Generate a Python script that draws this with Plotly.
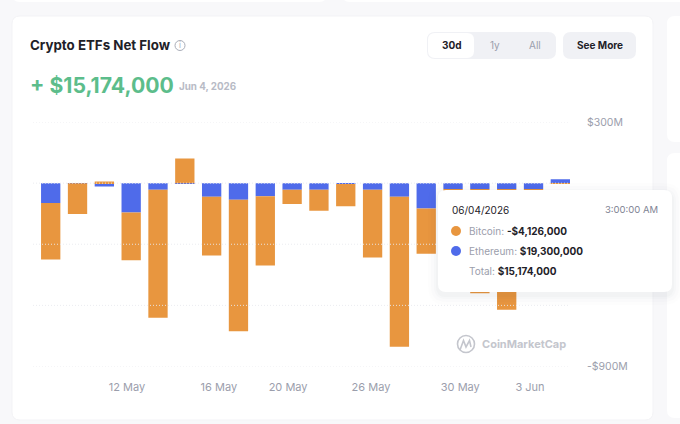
# -*- coding: utf-8 -*-
import plotly.graph_objects as go

W, H = 680, 424

# values in $M, one per trading day
days = ["7 May", "8 May", "11 May", "12 May", "13 May", "14 May", "15 May", "18 May", "19 May", "20 May",
        "21 May", "22 May", "26 May", "27 May", "28 May", "29 May", "1 Jun", "2 Jun", "3 Jun", "4 Jun"]
ethereum = [-98, -1, -16, -144, -33, -1, -67, -82, -64, -33, -33, -4, -33, -67, -124, -29, -29, -29, -29, 19.3]
bitcoin = [-277, -150, 8, -234, -628, 121, -288, -645, -340, -69, -102, -110, -332, -736, -223, -60, -512, -592, -40, -4.126]

tick_pos = [2.84, 6.27, 8.85, 11.94, 15.27, 17.87]
tick_labels = ["12 May", "16 May", "20 May", "26 May", "30 May", "3 Jun"]
grid_values = [300, 0, -300, -600, -900]
y_ticks = [300, -900]
y_labels = ["$300M", "-$900M"]

ORANGE = "#E8963F"
BLUE = "#4F6BEA"
DARK = "#1E2128"
GREY = "#9B9EAC"


def fx(px):
    return px / W


def fy(py):
    return 1 - py / H


def round_rect(x0, y0, x1, y1, r, fill, layer="below", line=None):
    # rounded box, given in screen pixels
    path = (f"M {fx(x0 + r)} {fy(y0)} L {fx(x1 - r)} {fy(y0)} Q {fx(x1)} {fy(y0)} {fx(x1)} {fy(y0 + r)} "
            f"L {fx(x1)} {fy(y1 - r)} Q {fx(x1)} {fy(y1)} {fx(x1 - r)} {fy(y1)} "
            f"L {fx(x0 + r)} {fy(y1)} Q {fx(x0)} {fy(y1)} {fx(x0)} {fy(y1 - r)} "
            f"L {fx(x0)} {fy(y0 + r)} Q {fx(x0)} {fy(y0)} {fx(x0 + r)} {fy(y0)} Z")
    return dict(type="path", xref="paper", yref="paper", path=path, fillcolor=fill, layer=layer,
                line=line or dict(width=0))


def circle(cx, cy, r, fill, line=None, layer="above"):
    return dict(type="circle", xref="paper", yref="paper", x0=fx(cx - r), x1=fx(cx + r),
                y0=fy(cy + r), y1=fy(cy - r), fillcolor=fill, layer=layer, line=line or dict(width=0))


def label(text, x, y, size=11, color=DARK, anchor="left"):
    return dict(text=text, x=fx(x), y=fy(y), xref="paper", yref="paper", xanchor=anchor, yanchor="middle",
                showarrow=False, align=anchor, borderpad=0, font=dict(family="Inter", size=size, color=color))


fig = go.Figure()
fig.add_trace(go.Bar(x=list(range(len(days))), y=ethereum, name="Ethereum", marker=dict(color=BLUE, line=dict(width=0)),
                     customdata=days))
fig.add_trace(go.Bar(x=list(range(len(days))), y=bitcoin, name="Bitcoin", marker=dict(color=ORANGE, line=dict(width=0)),
                     customdata=days))

# page background and cards
shapes = [
    round_rect(12, -12, 327, 2, 8, "#FFFFFF"),
    round_rect(342, -12, 692, 2, 8, "#FFFFFF"),
    round_rect(12, 16, 653, 420, 8, "#FFFFFF", line=dict(color="#F3F3F6", width=1)),
    round_rect(667, 16, 692, 142, 8, "#FFFFFF"),
    round_rect(667, 153, 692, 418, 8, "#FFFFFF"),
    # range buttons
    round_rect(427, 32, 556, 59, 8, "#F0F1F5"),
    round_rect(428, 33, 474, 58, 7, "#FFFFFF"),
    round_rect(563, 32, 636, 59, 8, "#F0F1F5"),
    circle(180, 45.5, 5, "#FFFFFF", dict(color="#A9ADB8", width=1), layer="below"),
    # logo
    circle(466, 344, 8.5, "rgba(0,0,0,0)", dict(color="#C4C6CD", width=1.6), layer="below"),
    dict(type="path", xref="paper", yref="paper", layer="below", line=dict(color="#C4C6CD", width=1.6),
         path=f"M {fx(460)} {fy(350)} L {fx(463.5)} {fy(340.5)} L {fx(466)} {fy(347)} "
              f"L {fx(469.5)} {fy(340.5)} L {fx(471)} {fy(347)}"),
]

# dotted grid sits on top of the bars in the original
for v in grid_values:
    shapes.append(dict(type="line", xref="x domain", yref="y", x0=0, x1=1, y0=v, y1=v, layer="above",
                       line=dict(color="#E9EAEE", width=0.9, dash="1px,2px")))

# tooltip with soft shadow
for grow, alpha in [(10, 0.008), (7, 0.01), (4, 0.014), (2, 0.018)]:
    shapes.append(round_rect(438 - grow, 190 - grow + 3, 672 + grow, 292 + grow + 3, 8 + grow,
                             f"rgba(30,35,60,{alpha})", layer="above"))
shapes.append(round_rect(438, 190, 672, 292, 8, "#FFFFFF", layer="above"))
shapes.append(circle(456, 231, 5, ORANGE))
shapes.append(circle(456, 251, 5, BLUE))

annotations = [
    label("<b>Crypto ETFs Net Flow</b>", 29, 45.5, size=13.3),
    label("i", 180, 45.5, size=8, color="#A9ADB8", anchor="center"),
    label("<b>+ $15,174,000</b>", 29, 85.5, size=21.2, color="#5CBD8B"),
    label("<b>Jun 4, 2026</b>", 178, 86, size=9.8, color="#B8BBC6"),
    label("<b>30d</b>", 451.5, 45.5, size=10, anchor="center"),
    label("1y", 495, 45.5, size=10, color=GREY, anchor="center"),
    label("All", 535, 45.5, size=10, color=GREY, anchor="center"),
    label("<b>See More</b>", 599.5, 45.5, size=10, anchor="center"),
    label("<b>CoinMarketCap</b>", 481, 344, size=11, color="#C4C6CD"),
    label("06/04/2026", 451, 209.5, size=10),
    label("3:00:00 AM", 659, 209.5, size=9.5, color="#7F8494", anchor="right"),
    label(f'Bitcoin: <b><span style="color:{DARK}">-$4,126,000</span></b>', 468, 231, size=10, color=GREY),
    label(f'Ethereum: <b><span style="color:{DARK}">$19,300,000</span></b>', 468, 251, size=10, color=GREY),
    label(f'Total: <b><span style="color:{DARK}">$15,174,000</span></b>', 468, 271, size=10, color=GREY),
]

fig.update_layout(
    template="none",
    width=W, height=H,
    margin=dict(l=0, r=0, t=0, b=0),
    paper_bgcolor="#F8F8FA",
    plot_bgcolor="rgba(0,0,0,0)",
    barmode="relative",
    bargap=0.28,
    showlegend=False,
    shapes=shapes,
    annotations=annotations,
    font=dict(family="Inter", size=11, color=GREY),
)
fig.update_xaxes(domain=[fx(33), fx(570)], range=[-0.66, 19.36], tickmode="array", tickvals=tick_pos,
                 ticktext=tick_labels, showgrid=False, zeroline=False, showline=False, ticks="",
                 ticklabelstandoff=12, automargin=False)
fig.update_yaxes(domain=[fy(366.5), fy(122)], range=[-900, 300], side="right", tickmode="array", tickvals=y_ticks,
                 ticktext=y_labels, showgrid=False, zeroline=False, showline=False, ticks="",
                 tickfont=dict(size=10.5), ticklabelstandoff=16, automargin=False)

# page has a default 8px body margin, remove it
fig.write_html("out.html", post_script="document.body.style.margin='0';", config=dict(displayModeBar=False))
